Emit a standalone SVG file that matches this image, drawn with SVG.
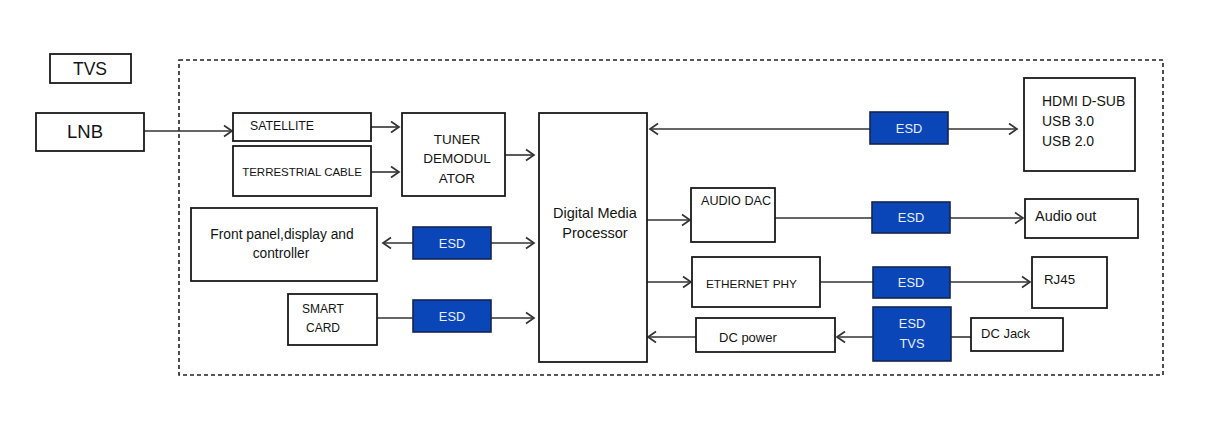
<svg xmlns="http://www.w3.org/2000/svg" width="1220" height="429" viewBox="0 0 1220 429">
<defs>
<marker id="arr" markerWidth="14" markerHeight="14" refX="10" refY="7" orient="auto" markerUnits="userSpaceOnUse">
<path d="M2,1.5 L10,7 L2,12.5" fill="none" stroke="#333" stroke-width="1.7"/>
</marker>
<marker id="arrs" markerWidth="14" markerHeight="14" refX="10" refY="7" orient="auto-start-reverse" markerUnits="userSpaceOnUse">
<path d="M2,1.5 L10,7 L2,12.5" fill="none" stroke="#333" stroke-width="1.7"/>
</marker>
<style>
.box{fill:#fff;stroke:#1a1a1a;stroke-width:1.8}
.esd{fill:#0a46b8;stroke:#15254f;stroke-width:1.6}
.t{font-family:"Liberation Sans",Arial,sans-serif;fill:#141414}
.w{font-family:"Liberation Sans",Arial,sans-serif;fill:#e8eefa;font-size:12.8px;text-anchor:middle}
.c{text-anchor:middle}
.ln{stroke:#333;stroke-width:1.6;fill:none}
</style>
</defs>
<rect width="1220" height="429" fill="#fff"/>
<rect id="boundary" x="179" y="60" width="984" height="315" fill="none" stroke="#222" stroke-width="1.6" stroke-dasharray="4,3"/>

<g id="connectors">
<line class="ln" x1="144" y1="131" x2="232" y2="131" marker-end="url(#arr)"/>
<line class="ln" x1="371" y1="127" x2="399" y2="127" marker-end="url(#arr)"/>
<line class="ln" x1="371" y1="172" x2="399" y2="172" marker-end="url(#arr)"/>
<line class="ln" x1="505" y1="155" x2="534" y2="155" marker-end="url(#arr)"/>
<line class="ln" x1="383" y1="243" x2="534" y2="243" marker-start="url(#arrs)" marker-end="url(#arr)"/>
<line class="ln" x1="377" y1="318" x2="413" y2="318"/>
<line class="ln" x1="491" y1="318" x2="534" y2="318" marker-end="url(#arr)"/>
<line class="ln" x1="650" y1="129" x2="1017" y2="129" marker-start="url(#arrs)" marker-end="url(#arr)"/>
<line class="ln" x1="647" y1="220" x2="690" y2="220" marker-end="url(#arr)"/>
<line class="ln" x1="775" y1="218" x2="872" y2="218"/>
<line class="ln" x1="950" y1="218" x2="1023" y2="218" marker-end="url(#arr)"/>
<line class="ln" x1="647" y1="282" x2="691" y2="282" marker-end="url(#arr)"/>
<line class="ln" x1="820" y1="282" x2="873" y2="282"/>
<line class="ln" x1="950" y1="282" x2="1030" y2="282" marker-end="url(#arr)"/>
<line class="ln" x1="951" y1="337" x2="971" y2="337"/>
<line class="ln" x1="873" y1="337" x2="837" y2="337" marker-end="url(#arr)"/>
<line class="ln" x1="696" y1="337" x2="648" y2="337" marker-end="url(#arr)"/>
</g>

<g id="tvs-legend">
<rect class="box" x="50" y="54" width="81" height="29"/>
<text class="t c" x="90" y="75" font-size="17.5">TVS</text>
</g>
<g id="lnb">
<rect class="box" x="36" y="113" width="108" height="38"/>
<text class="t c" x="85" y="138" font-size="18.5">LNB</text>
</g>
<g id="satellite">
<rect class="box" x="233" y="113" width="138" height="28"/>
<text class="t" x="250" y="130" font-size="12.3">SATELLITE</text>
</g>
<g id="terrestrial">
<rect class="box" x="233" y="146" width="138" height="50"/>
<text class="t c" x="302" y="176" font-size="11.5">TERRESTRIAL CABLE</text>
</g>
<g id="tuner">
<rect class="box" x="402" y="113" width="103" height="83"/>
<text class="t c" x="457" y="144" font-size="13.5">TUNER</text>
<text class="t c" x="457" y="163" font-size="13.5">DEMODUL</text>
<text class="t c" x="457" y="183" font-size="13.5">ATOR</text>
</g>
<g id="dmp">
<rect class="box" x="539" y="113" width="108" height="249"/>
<text class="t c" x="595" y="218" font-size="14.5">Digital Media</text>
<text class="t c" x="595" y="238" font-size="14.5">Processor</text>
</g>
<g id="front-panel">
<rect class="box" x="191" y="208" width="186" height="73"/>
<text class="t c" x="282" y="239" font-size="13.8">Front panel,display and</text>
<text class="t c" x="281" y="258" font-size="13.8">controller</text>
</g>
<g id="esd-front">
<rect class="esd" x="413" y="227" width="78" height="32"/>
<text class="w" x="452" y="248">ESD</text>
</g>
<g id="smart-card">
<rect class="box" x="288" y="294" width="89" height="51"/>
<text class="t c" x="323" y="313" font-size="12">SMART</text>
<text class="t c" x="323" y="332" font-size="12">CARD</text>
</g>
<g id="esd-smart">
<rect class="esd" x="413" y="300" width="78" height="32"/>
<text class="w" x="452" y="321">ESD</text>
</g>
<g id="esd-hdmi">
<rect class="esd" x="870" y="112" width="78" height="32"/>
<text class="w" x="909" y="133">ESD</text>
</g>
<g id="hdmi">
<rect class="box" x="1024" y="78" width="111" height="93"/>
<text class="t" x="1042" y="106" font-size="14">HDMI D-SUB</text>
<text class="t" x="1042" y="126" font-size="14">USB 3.0</text>
<text class="t" x="1042" y="146" font-size="14">USB 2.0</text>
</g>
<g id="audio-dac">
<rect class="box" x="691" y="188" width="84" height="54"/>
<text class="t" x="701" y="205" font-size="12.6">AUDIO DAC</text>
</g>
<g id="esd-audio">
<rect class="esd" x="872" y="202" width="78" height="31"/>
<text class="w" x="911" y="222">ESD</text>
</g>
<g id="audio-out">
<rect class="box" x="1025" y="199" width="113" height="39"/>
<text class="t" x="1035" y="221" font-size="14.5">Audio out</text>
</g>
<g id="ethernet">
<rect class="box" x="692" y="257" width="128" height="50"/>
<text class="t" x="706" y="288" font-size="11.8">ETHERNET PHY</text>
</g>
<g id="esd-eth">
<rect class="esd" x="873" y="267" width="77" height="31"/>
<text class="w" x="911" y="287">ESD</text>
</g>
<g id="rj45">
<rect class="box" x="1032" y="257" width="75" height="51"/>
<text class="t" x="1044" y="284" font-size="13.3">RJ45</text>
</g>
<g id="dc-power">
<rect class="box" x="696" y="318" width="139" height="34"/>
<text class="t" x="719" y="342" font-size="13">DC power</text>
</g>
<g id="esd-tvs">
<rect class="esd" x="873" y="307" width="78" height="54"/>
<text class="w" x="912" y="328">ESD</text>
<text class="w" x="912" y="348">TVS</text>
</g>
<g id="dc-jack">
<rect class="box" x="971" y="318" width="92" height="33"/>
<text class="t" x="981" y="338" font-size="13">DC Jack</text>
</g>
</svg>
